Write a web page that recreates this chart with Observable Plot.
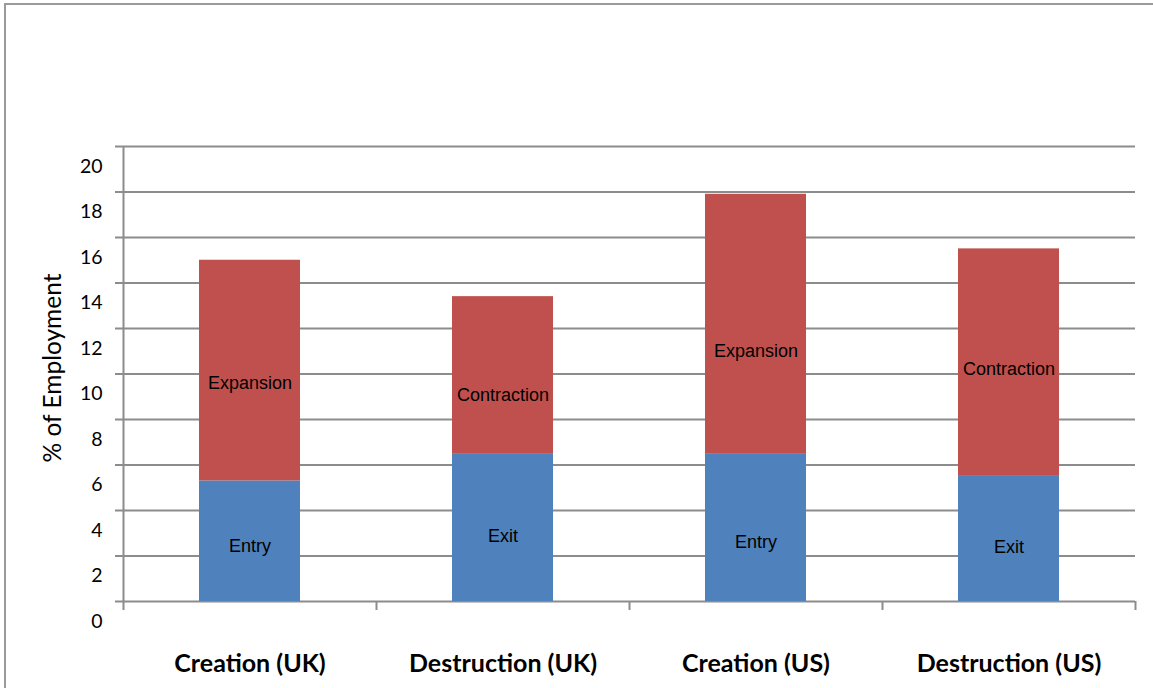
<!DOCTYPE html>
<html>
<head>
<meta charset="utf-8">
<script src="https://cdn.jsdelivr.net/npm/d3@7"></script>
<script src="https://cdn.jsdelivr.net/npm/@observablehq/plot@0.6"></script>
<style>
  html, body { margin: 0; padding: 0; background: #fff; overflow: hidden; }
  #wrap { position: relative; width: 1153px; height: 688px; }
  #wrap svg { position: absolute; left: 0; top: 0; }
  #frame {
    position: absolute; left: 4px; top: 3px; width: 1300px; height: 900px;
    border-top: 2px solid #9a9a9a; border-left: 2px solid #9a9a9a;
    pointer-events: none;
  }
</style>
</head>
<body>
<div id="wrap"><div id="frame"></div></div>
<script>
// Job flows as a share of employment
const categories = ["Creation (UK)", "Destruction (UK)", "Creation (US)", "Destruction (US)"];
const lowerParts = ["Entry", "Exit", "Entry", "Exit"];
const lowerValues = [5.3, 6.5, 6.5, 5.5];
const upperParts = ["Expansion", "Contraction", "Expansion", "Contraction"];
const upperValues = [9.7, 6.9, 11.4, 10.0];
const yTicks = [0, 2, 4, 6, 8, 10, 12, 14, 16, 18, 20];
const yTitle = "% of Employment";

// small vertical nudges for the in-bar labels (px)
const lowerNudge = [5, 9, 15, 8];
const upperNudge = [13, 20, 27, 7];

const rows = [
  ...categories.map((c, i) => ({category: c, layer: "lower", part: lowerParts[i], value: lowerValues[i]})),
  ...categories.map((c, i) => ({category: c, layer: "upper", part: upperParts[i], value: upperValues[i]}))
];

// label anchors sit at the middle of each stacked segment
const labels = [
  ...categories.map((c, i) => ({category: c, part: lowerParts[i], mid: lowerValues[i] / 2, nudge: lowerNudge[i]})),
  ...categories.map((c, i) => ({category: c, part: upperParts[i], mid: lowerValues[i] + upperValues[i] / 2, nudge: upperNudge[i]}))
];

const W = 1153, H = 688;
const mL = 123, mR = 18, mT = 146, mB = 87;
const padIn = 0.6, padOut = 0.3;
const step = (W - mL - mR) / (categories.length - padIn + 2 * padOut);
const labelFont = "'Liberation Sans', Arial, sans-serif";

const chart = Plot.plot({
  width: W,
  height: H,
  marginLeft: mL,
  marginRight: mR,
  marginTop: mT,
  marginBottom: mB,
  style: {background: "transparent", color: "#000", fontFamily: "Lato, sans-serif"},
  x: {domain: categories, paddingInner: padIn, paddingOuter: padOut, label: null},
  y: {domain: [0, 20], label: null},
  color: {domain: ["lower", "upper"], range: ["#4f81bd", "#c0504d"]},
  marks: [
    // horizontal gridlines, extended left to form the axis ticks
    Plot.ruleY(yTicks, {stroke: "#8c8c8c", strokeWidth: 2, insetLeft: -8}),
    // vertical value axis line
    Plot.ruleX([categories[0]], {dx: -step / 2, y1: 20, y2: 0, insetBottom: -9, stroke: "#8c8c8c", strokeWidth: 2}),
    // category separator ticks below the baseline
    Plot.ruleX(categories, {dx: step / 2, y1: 0, y2: 0, insetBottom: -9, stroke: "#8c8c8c", strokeWidth: 2}),
    Plot.barY(rows, Plot.stackY({x: "category", y: "value", z: "layer", fill: "layer", order: null})),
    ...labels.map((d) => Plot.text([d], {
      x: "category", y: "mid", text: "part", dy: d.nudge,
      fontFamily: labelFont, fontSize: 18, fill: "#000"
    })),
    Plot.axisY({ticks: yTicks, tickSize: 0, tickPadding: 21, dy: 20, fontSize: 19.5, label: null, fill: "#000"}),
    Plot.axisX({tickSize: 0, tickPadding: 53, fontSize: 25, fontWeight: "bold", label: null, fill: "#000"}),
    Plot.text([yTitle], {frameAnchor: "left", textAnchor: "middle", text: (d) => d, rotate: -90, dx: -70, dy: -6, fontSize: 24.5, fill: "#000"})
  ]
});

document.getElementById("wrap").prepend(chart);
</script>
</body>
</html>
